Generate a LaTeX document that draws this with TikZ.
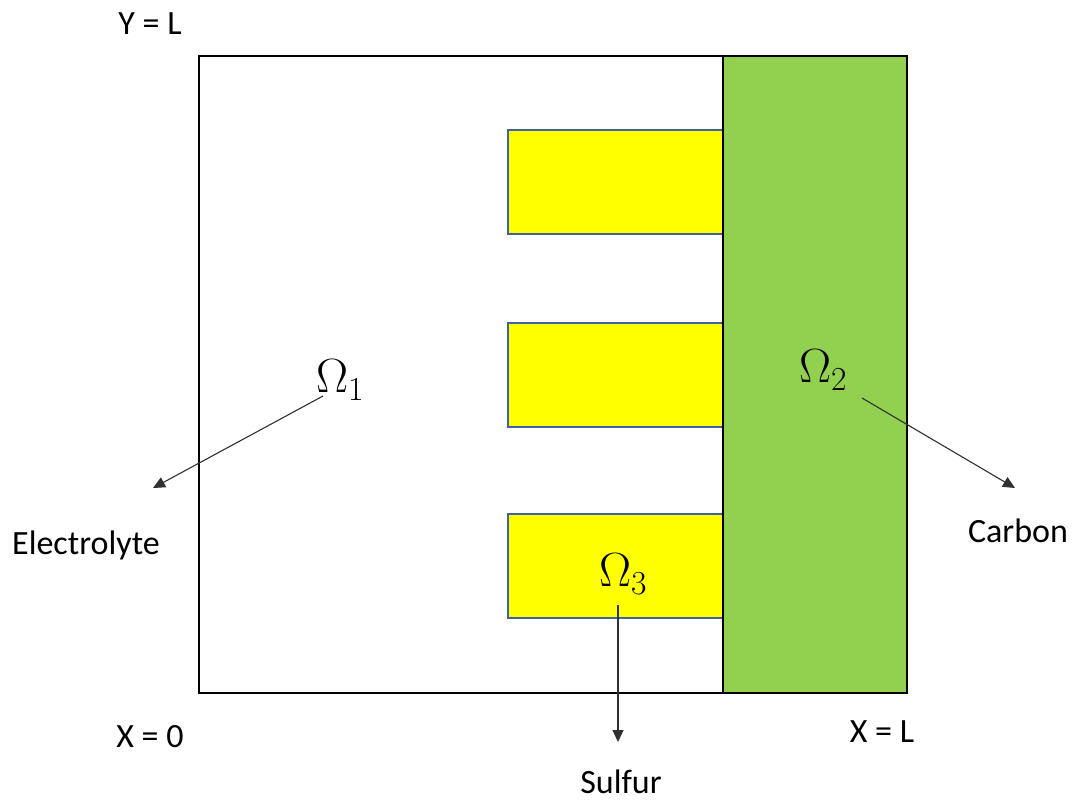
\documentclass[tikz,border=0pt]{standalone}
\usepackage{fix-cm}
\usepackage{fontspec}
\setmainfont{Carlito}
\usetikzlibrary{arrows.meta}
\definecolor{sgreen}{HTML}{92D050}
\definecolor{syellow}{HTML}{FFFF00}
\definecolor{sblue}{HTML}{3F62A0}
\definecolor{arrgray}{HTML}{303030}
\begin{document}
\begin{tikzpicture}[x=1pt,y=-1pt,
  lbl/.style={font=\fontsize{34}{40}\selectfont, inner sep=0pt},
  omega/.style={font=\fontsize{48}{56}\selectfont, inner sep=0pt},
  sulfurbox/.style={fill=syellow, draw=sblue, line width=2pt},
  pointer/.style={draw=arrgray, line width=1.1pt, -{Triangle[length=12pt,width=11pt]}}]
\useasboundingbox (0,0) rectangle (1077,804);
\fill[white] (0,0) rectangle (1077,804);
% domain
\draw[line width=2pt] (199,56) rectangle (907,693);
% sulfur particles
\draw[sulfurbox] (508,130) rectangle (723,234);
\draw[sulfurbox] (508,323) rectangle (723,427);
\draw[sulfurbox] (508,514) rectangle (723,618);
% carbon
\draw[fill=sgreen, draw=black, line width=2pt] (723,56) rectangle (907,693);
% region labels
\node[omega] (o1) at (340,380) {$\Omega_1$};
\node[omega] (o2) at (823,370) {$\Omega_2$};
\node[omega] (o3) at (623,574) {$\Omega_3$};
% text labels
\node[lbl] (yl) at (150,24) {Y = L};
\node[lbl] (elec) at (86,545) {Electrolyte};
\node[lbl] (carb) at (1018,531) {Carbon};
\node[lbl] (x0) at (150,737) {X = 0};
\node[lbl] (xl) at (882,732) {X = L};
\node[lbl] (sulf) at (621,782) {Sulfur};
% pointers
\coordinate (a1s) at (323,396);
\coordinate (a1e) at (153,488);
\coordinate (a2s) at (862,398);
\coordinate (a2e) at (1015,488);
\coordinate (a3s) at (618,605);
\coordinate (a3e) at (618,742);
\draw[pointer] (a1s) -- (a1e);
\draw[pointer] (a2s) -- (a2e);
\draw[pointer] (a3s) -- (a3e);
\end{tikzpicture}
\end{document}
